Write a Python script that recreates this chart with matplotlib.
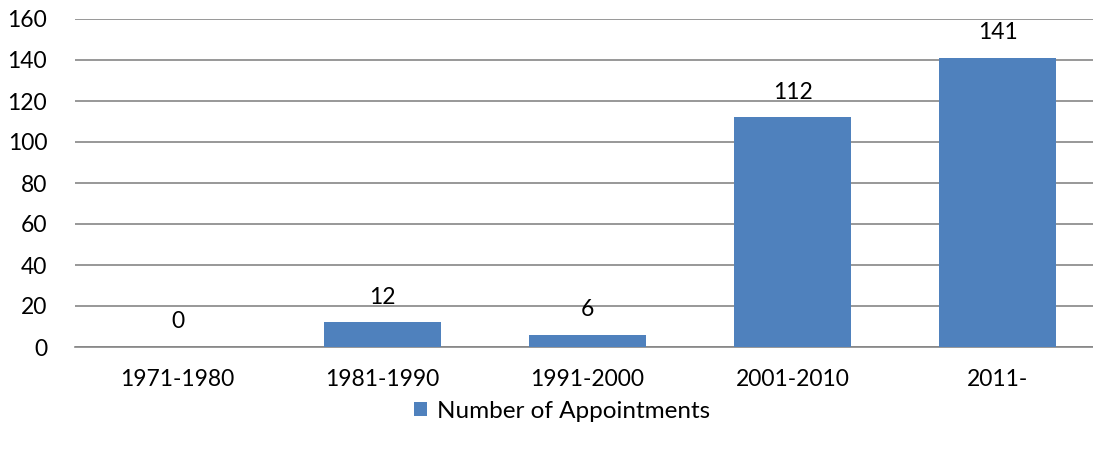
import matplotlib
matplotlib.use('Agg')
import matplotlib.pyplot as plt
import numpy as np

plt.rcParams['font.family'] = ['Lato', 'DejaVu Sans']

# 数据
decades = ['1971-1980', '1981-1990', '1991-2000', '2001-2010', '2011-']
appointments = [0, 12, 6, 112, 141]
yticks = [0, 20, 40, 60, 80, 100, 120, 140, 160]

W, H = 1093, 449
fig = plt.figure(figsize=(W / 100, H / 100), dpi=100)
# 绘图区：左 75px，底部 y=347px，每个类别宽 205px（右侧略超出画布）
ax = fig.add_axes([75 / W, (H - 347) / H, 1025 / W, 328 / H])

x = np.arange(len(decades))
bars = ax.bar(x, appointments, width=0.57, color='#4F81BD', zorder=3,
              label='Number of Appointments')

for xi, v in zip(x, appointments):
    ax.annotate(str(v), (xi, v), xytext=(0, 18), textcoords='offset points',
                ha='center', va='center', fontsize=16.5, color='black')

ax.set_xlim(-0.5, len(decades) - 0.5)
ax.set_ylim(0, 160)
ax.set_yticks(yticks)
ax.set_xticks(x)
ax.set_xticklabels(decades)
ax.tick_params(axis='both', length=0, labelsize=16.5, colors='black')
ax.tick_params(axis='x', pad=16)
ax.tick_params(axis='y', pad=20)
ax.grid(axis='y', color='#868686', linewidth=1.2, zorder=0)
for s in ['left', 'right', 'top']:
    ax.spines[s].set_visible(False)
ax.spines['bottom'].set_color('#868686')
ax.spines['bottom'].set_linewidth(1.2)

fig.legend(handles=[bars], labels=['Number of Appointments'],
           loc='center', bbox_to_anchor=(562 / W, (H - 411) / H),
           frameon=False, fontsize=17.5, handlelength=0.55, handleheight=0.55,
           handletextpad=0.4)

fig.savefig('out.png', dpi=100)
